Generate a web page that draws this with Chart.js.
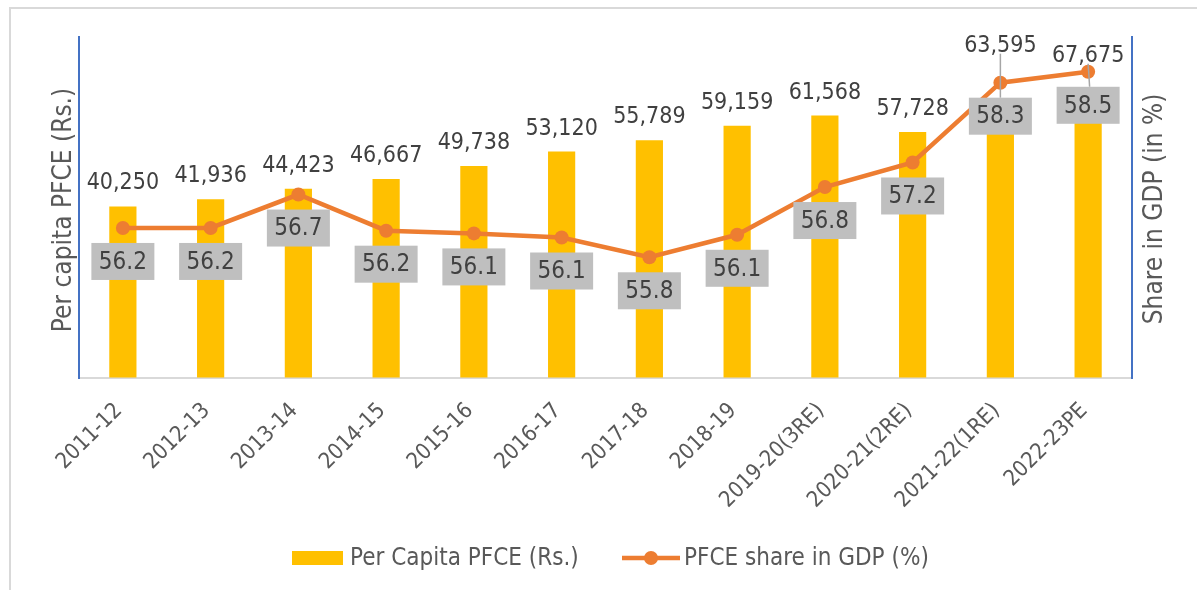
<!DOCTYPE html>
<html><head><meta charset="utf-8">
<script src="https://cdn.jsdelivr.net/npm/chart.js@4.4.0/dist/chart.umd.min.js"></script>
<style>
html,body{margin:0;padding:0;background:#fff;overflow:hidden}
#wrap{position:relative;width:1197px;height:590px;overflow:hidden}
#frame{position:absolute;left:9px;top:7px;width:1200px;height:600px;border:2px solid #d9d9d9;box-sizing:border-box}
canvas{position:absolute;left:0;top:0}
</style></head>
<body><div id="wrap"><div id="frame"></div><canvas id="c" width="1197" height="590"></canvas></div>
<script>
const categories = ["2011-12","2012-13","2013-14","2014-15","2015-16","2016-17","2017-18","2018-19","2019-20(3RE)","2020-21(2RE)","2021-22(1RE)","2022-23PE"];
const perCapitaPFCE = [40250, 41936, 44423, 46667, 49738, 53120, 55789, 59159, 61568, 57728, 63595, 67675];
const pfceShareGDP = [56.20, 56.20, 56.69, 56.16, 56.12, 56.06, 55.77, 56.10, 56.80, 57.16, 58.33, 58.49];
const seriesNames = ["Per Capita PFCE (Rs.)", "PFCE share in GDP (%)"];
const axisTitles = ["Per capita PFCE (Rs.)", "Share in GDP (in %)"];
const leftAxisRange = [0, 80000];
const rightAxisRange = [54, 59];

const FONT = "'DejaVu Sans Condensed','DejaVu Sans',sans-serif";
const BAR_COLOR = "#FFC000", LINE_COLOR = "#ED7D31";

const fmtInt = v => v.toLocaleString('en-US');

const annot = {
  id: 'annot',
  afterDatasetsDraw(chart) {
    const ctx = chart.ctx;
    const bars = chart.getDatasetMeta(0).data;
    const pts = chart.getDatasetMeta(1).data;
    const raised = {10: 31, 11: 10};
    ctx.save();
    ctx.strokeStyle = "#A6A6A6"; ctx.lineWidth = 1.5;
    Object.keys(raised).forEach(k => {
      const i = +k, p = pts[i];
      const top = p.y - raised[i] + 2;
      ctx.beginPath(); ctx.moveTo(p.x, top); ctx.lineTo(p.x + (i === 11 ? 1.5 : 0), p.y + 15); ctx.stroke();
    });
    ctx.fillStyle = "#404040"; ctx.font = "23px " + FONT;
    ctx.textAlign = "center"; ctx.textBaseline = "alphabetic";
    bars.forEach((b, i) => {
      let y = b.y - 17;
      if (raised[i] !== undefined) y = pts[i].y - raised[i];
      ctx.fillText(fmtInt(perCapitaPFCE[i]), b.x, y);
    });
    ctx.font = "24px " + FONT;
    pts.forEach((p, i) => {
      const w = 63, h = 37, x0 = p.x - w / 2, y0 = p.y + 15;
      ctx.fillStyle = "#BFBFBF"; ctx.fillRect(x0, y0, w, h);
      ctx.fillStyle = "#404040"; ctx.textBaseline = "middle";
      ctx.fillText(pfceShareGDP[i].toFixed(1), p.x, y0 + h / 2 + 1);
    });
    ctx.restore();
  },
  afterDraw(chart) {
    const ctx = chart.ctx;
    ctx.save();
    ctx.fillStyle = "#595959"; ctx.font = "26px " + FONT;
    ctx.textAlign = "center"; ctx.textBaseline = "alphabetic";
    ctx.translate(71, 210); ctx.rotate(-Math.PI / 2); ctx.fillText(axisTitles[0], 0, 0);
    ctx.restore();
    ctx.save();
    ctx.fillStyle = "#595959"; ctx.font = "26px " + FONT;
    ctx.textAlign = "center"; ctx.textBaseline = "alphabetic";
    ctx.translate(1162, 209); ctx.rotate(-Math.PI / 2); ctx.fillText(axisTitles[1], 0, 0);
    ctx.restore();
    // legend
    ctx.save();
    ctx.fillStyle = BAR_COLOR; ctx.fillRect(292, 551, 51, 14);
    ctx.fillStyle = "#595959"; ctx.font = "24px " + FONT; ctx.textBaseline = "middle"; ctx.textAlign = "left";
    ctx.fillText(seriesNames[0], 350, 559);
    ctx.strokeStyle = LINE_COLOR; ctx.lineWidth = 4.5;
    ctx.beginPath(); ctx.moveTo(622, 558); ctx.lineTo(680, 558); ctx.stroke();
    ctx.fillStyle = LINE_COLOR; ctx.beginPath(); ctx.arc(651, 558, 7, 0, Math.PI * 2); ctx.fill();
    ctx.fillStyle = "#595959";
    ctx.fillText(seriesNames[1], 684, 559);
    ctx.restore();
  }
};

new Chart(document.getElementById('c'), {
  data: {
    labels: categories,
    datasets: [
      { type: 'bar', label: seriesNames[0], data: perCapitaPFCE, backgroundColor: BAR_COLOR, yAxisID: 'y', order: 2,
        categoryPercentage: 1, barPercentage: 0.31 },
      { type: 'line', label: seriesNames[1], data: pfceShareGDP, borderColor: LINE_COLOR, backgroundColor: LINE_COLOR,
        borderWidth: 4.5, pointRadius: 7, pointHoverRadius: 7, pointBackgroundColor: LINE_COLOR, pointBorderWidth: 0,
        tension: 0, yAxisID: 'y1', order: 1 }
    ]
  },
  options: {
    responsive: false, animation: false, devicePixelRatio: 1,
    layout: { padding: { left: 79, right: 65, top: 37, bottom: 0 } },
    plugins: { legend: { display: false }, tooltip: { enabled: false }, title: { display: false } },
    scales: {
      x: {
        offset: true,
        grid: { display: true, drawOnChartArea: false, drawTicks: false },
        border: { display: true, color: "#D9D9D9", width: 2 },
        ticks: { color: "#595959", font: { family: FONT, size: 22 }, maxRotation: 45, minRotation: 45, padding: 20, labelOffset: -4, autoSkip: false },
        afterFit(s) { s.height = 212; }
      },
      y: {
        position: 'left', min: leftAxisRange[0], max: leftAxisRange[1],
        grid: { display: true, drawOnChartArea: false, drawTicks: false },
        border: { display: true, color: "#4472C4", width: 2 },
        ticks: { display: false },
        afterFit(s) { s.width = 0; }
      },
      y1: {
        position: 'right', min: rightAxisRange[0], max: rightAxisRange[1],
        grid: { display: true, drawOnChartArea: false, drawTicks: false },
        border: { display: true, color: "#4472C4", width: 2 },
        ticks: { display: false },
        afterFit(s) { s.width = 0; }
      }
    }
  },
  plugins: [annot]
});
</script>
</body></html>
